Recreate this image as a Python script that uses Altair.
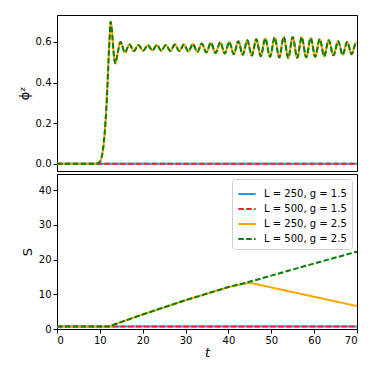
import altair as alt
import pandas as pd

names = ["L = 250, g = 1.5", "L = 500, g = 1.5", "L = 250, g = 2.5", "L = 500, g = 2.5"]
colors = ["#1f9cf0", "#ff1f1f", "#ffa500", "#008000"]
dashes = [[1, 0], [5.5, 2.4], [1, 0], [5.5, 2.4]]

# top panel: phi^z
phi_low_t = [0, 70]
phi_low_v = [0.0, 0.0]

phi_high_t = [0, 9.0, 9.6, 10.0, 10.5, 10.9, 11.3, 11.7, 12.0, 12.3, 12.5, 12.8, 13.2, 13.6, 14.2,
              14.8, 15.85, 16.9, 17.95, 19.0, 20.1, 21.2, 22.25, 23.3, 24.35, 25.4, 26.45, 27.5,
              28.55, 29.6, 30.65, 31.7, 32.75, 33.8, 34.85, 35.9, 37.0, 38.1, 39.15, 40.2, 41.25,
              42.3, 43.35, 44.4, 45.45, 46.5, 47.55, 48.6, 49.7, 50.8, 51.85, 52.9, 53.95, 55.0,
              56.05, 57.1, 58.15, 59.2, 60.25, 61.3, 62.35, 63.4, 64.5, 65.6, 66.65, 67.7, 68.75,
              69.8, 70.0]
phi_high_v = [0.0, 0.0, 0.003, 0.01, 0.04, 0.10, 0.20, 0.35, 0.50, 0.63, 0.70, 0.66, 0.55, 0.495, 0.55,
              0.600, 0.548, 0.588, 0.555, 0.585, 0.557, 0.584, 0.558, 0.585, 0.557, 0.585, 0.556, 0.587,
              0.555, 0.588, 0.553, 0.590, 0.551, 0.592, 0.549, 0.595, 0.546, 0.598, 0.543, 0.600, 0.540,
              0.604, 0.537, 0.608, 0.533, 0.613, 0.530, 0.617, 0.527, 0.621, 0.524, 0.624, 0.522, 0.625,
              0.522, 0.623, 0.524, 0.619, 0.527, 0.614, 0.530, 0.609, 0.534, 0.604, 0.537, 0.600, 0.540,
              0.597, 0.596]

# bottom panel: S
s_low_t = [0, 70]
s_low_v = [0.7, 0.7]
s_250_t = [0, 12, 20, 30, 40, 44.3, 45.5, 70]
s_250_v = [0.7, 0.7, 4.2, 8.3, 12.1, 13.25, 13.2, 6.6]
s_500_t = [0, 12, 20, 30, 40, 44.3, 50, 60, 70]
s_500_v = [0.7, 0.7, 4.2, 8.3, 12.1, 13.4, 15.4, 18.9, 22.3]


def frame(ts, vs, name):
    return pd.DataFrame({"t": ts, "v": vs, "series": name})


top_sets = [frame(phi_low_t, phi_low_v, names[0]), frame(phi_low_t, phi_low_v, names[1]),
            frame(phi_high_t, phi_high_v, names[2]), frame(phi_high_t, phi_high_v, names[3])]
bot_sets = [frame(s_low_t, s_low_v, names[0]), frame(s_low_t, s_low_v, names[1]),
            frame(s_250_t, s_250_v, names[2]), frame(s_500_t, s_500_v, names[3])]

xscale = alt.Scale(domain=[0, 70], nice=False, zero=False)


def layers(sets, yscale, ytitle, yticks, yfmt, show_x, legend, interp):
    out = []
    for df in sets:
        enc = dict(
            x=alt.X("t:Q", scale=xscale,
                    axis=alt.Axis(values=[0, 10, 20, 30, 40, 50, 60, 70], title="t",
                                  titleFontStyle="italic", titleFontSize=13, titlePadding=1) if show_x else None),
            y=alt.Y("v:Q", scale=yscale,
                    axis=alt.Axis(values=yticks, format=yfmt, title=ytitle, titleFontSize=13)),
            color=alt.Color("series:N", scale=alt.Scale(domain=names, range=colors), legend=legend),
            strokeDash=alt.StrokeDash("series:N", scale=alt.Scale(domain=names, range=dashes), legend=legend),
        )
        out.append(alt.Chart(df).mark_line(strokeWidth=2, interpolate=interp, clip=True).encode(**enc))
    return alt.layer(*out)


leg = alt.Legend(title=None, orient="top-right", offset=5, symbolType="stroke", symbolStrokeWidth=2,
                 symbolSize=300, labelFontSize=10, labelFont="DejaVu Sans", fillColor="white",
                 strokeColor="#d0d0d0", padding=5, cornerRadius=3, rowPadding=0, labelLimit=200,
                 labelOffset=7)

top = layers(top_sets, alt.Scale(domain=[-0.036, 0.733], nice=False, zero=False), "ϕᶻ",
             [0.0, 0.2, 0.4, 0.6], ".1f", False, None, "monotone").properties(width=300, height=156)
bot = layers(bot_sets, alt.Scale(domain=[0, 44.7], nice=False, zero=False), "S",
             [0, 10, 20, 30, 40], "d", True, leg, "linear").properties(width=300, height=155)

chart = alt.vconcat(top, bot, spacing=1).resolve_scale(color="independent", strokeDash="independent").properties(
    padding={"left": 9, "top": 6, "right": 5, "bottom": 5}
).configure_axis(
    labelFont="DejaVu Sans", titleFont="DejaVu Sans", labelFontSize=10, titleFontWeight="normal",
    grid=False, domainColor="black", tickColor="black", labelColor="black", titleColor="black",
    tickSize=4, labelPadding=2
).configure_view(stroke="black", strokeWidth=1)

chart.save("out.html", embed_options={"renderer": "svg", "actions": False})
